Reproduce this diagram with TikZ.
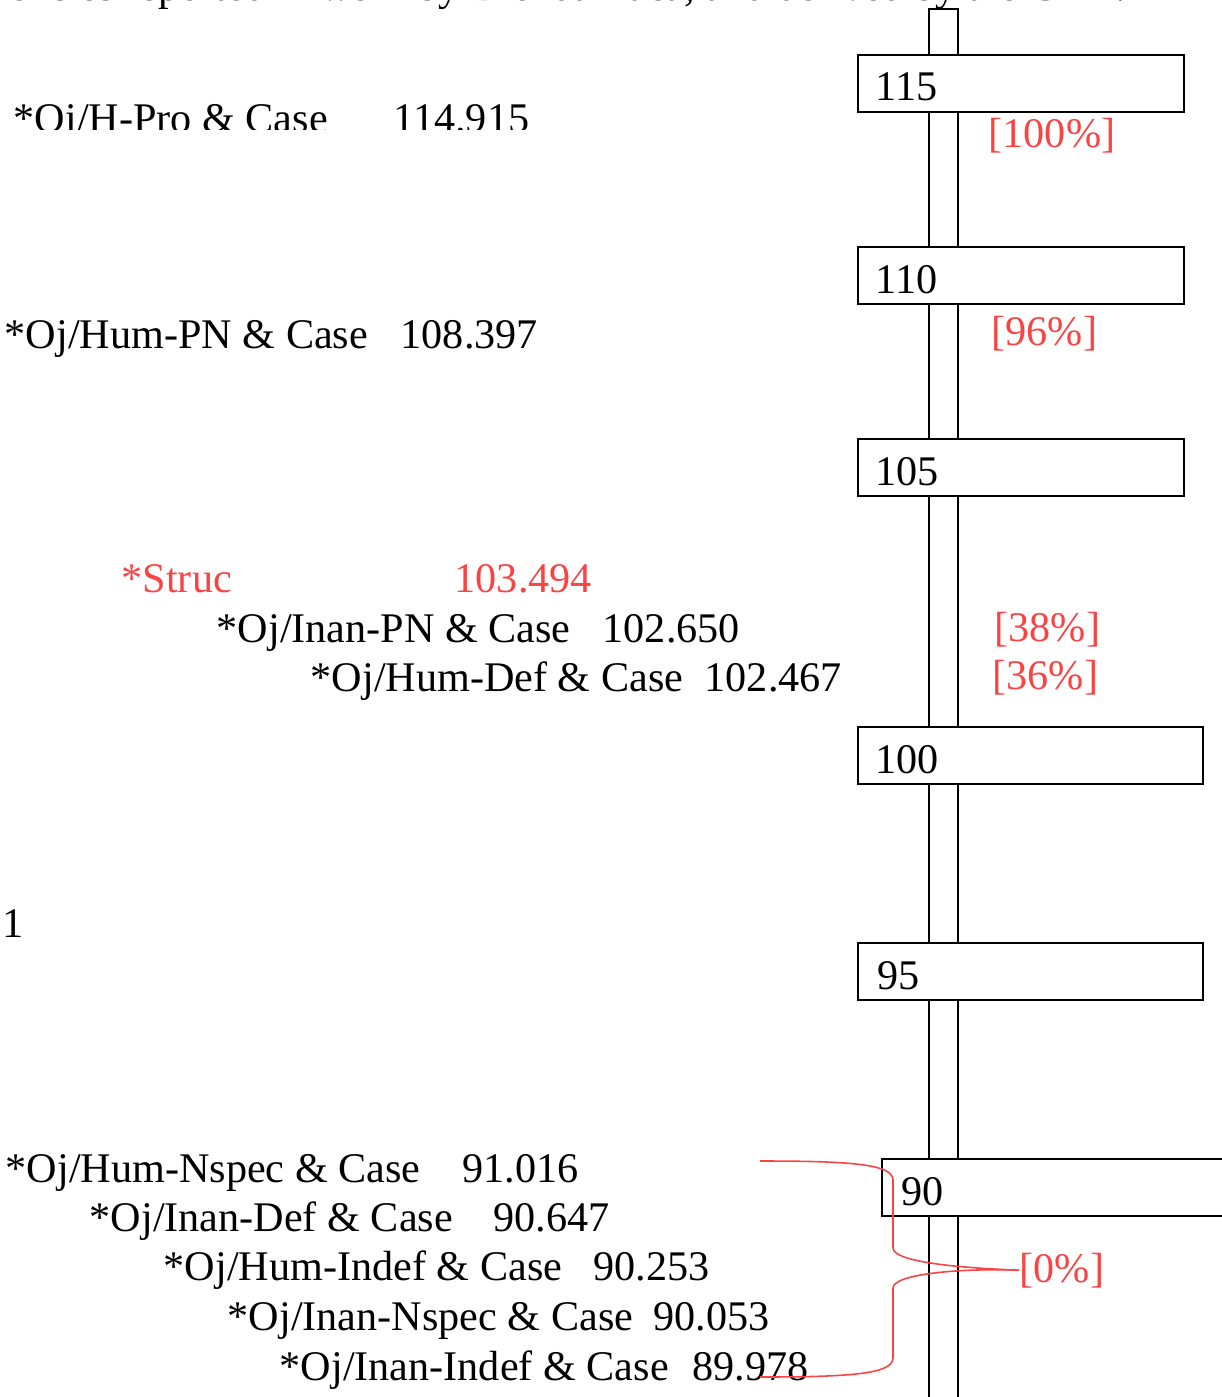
\documentclass[tikz,border=0pt]{standalone}
\usepackage{fontspec}
\setmainfont{Liberation Serif}
\usepackage{tikz}
\usetikzlibrary{positioning,calc}
\definecolor{gradred}{RGB}{250,68,68}

\begin{document}
\begin{tikzpicture}[
  x=0.01cm, y=-0.01cm,
  font=\fontsize{12}{14.4}\selectfont,
  lbl/.style={anchor=base west, inner sep=0pt},
  val/.style={anchor=base west, inner sep=0pt},
  pct/.style={anchor=base west, inner sep=0pt, text=gradred},
  tick/.style={draw, fill=white, line width=0.6pt, anchor=north west, inner sep=0pt, minimum height=5.7mm},
  ticknum/.style={anchor=base west, inner sep=0pt},
  bar/.style={draw, line width=0.6pt},
  link/.style={draw=gradred, line width=0.45pt},
]
\useasboundingbox (0,0) rectangle (1222,1397);
% caption line, cut by the top edge
\node[anchor=base east, inner sep=0pt] (caption) at (1127,1) {frequencies reported in work by Brenda Laca, and derived by the GLA.};
% the scale
\draw[bar] (929,1420) -- (929,9) -- (958,9) -- (958,1420);
% ---- scale ticks ----
\foreach \v/\bx/\by/\bw/\dx in {115/857/54/3.26/18, 110/857/246/3.26/18, 105/857/438/3.26/18, 100/857/726/3.45/18, 95/857/942/3.45/20, 90/881/1158/3.6/20}{
  \node[tick, minimum width=\bw cm] (b\v) at (\bx,\by) {};
  \node[ticknum] (n\v) at ($(b\v.north west)+(\dx,47)$) {\v};
}
% ---- constraints and weights ----
\begin{scope}
\clip (0,0) rectangle (850,130);
\node[lbl] (oihpro) at (13,133) {*Oi/H-Pro \& Case};
\node[val] (oihprov) at (393,133) {114.915};
\end{scope}
\node[lbl] (ojhumpn) at (4,348) {*Oj/Hum-PN \& Case};
\node[val] (ojhumpnv) at (400,348) {108.397};
\node[lbl, text=gradred] (struc) at (121,592) {*Struc};
\node[val, text=gradred] (strucv) at (454,592) {103.494};
\node[lbl] (ojinanpn) at (216,642) {*Oj/Inan-PN \& Case};
\node[val] (ojinanpnv) at (602,642) {102.650};
\node[lbl] (ojhumdef) at (310,691) {*Oj/Hum-Def \& Case};
\node[val] (ojhumdefv) at (704,691) {102.467};
\node[lbl] (one) at (1.5,937) {1};
\node[lbl] (ojhumnspec) at (5,1182) {*Oj/Hum-Nspec \& Case};
\node[val] (ojhumnspecv) at (462,1182) {91.016};
\node[lbl] (ojinandef) at (89,1231) {*Oj/Inan-Def \& Case};
\node[val] (ojinandefv) at (493,1231) {90.647};
\node[lbl] (ojhumindef) at (163,1280) {*Oj/Hum-Indef \& Case};
\node[val] (ojhumindefv) at (593,1280) {90.253};
\node[lbl] (ojinannspec) at (227,1330) {*Oj/Inan-Nspec \& Case};
\node[val] (ojinannspecv) at (653,1330) {90.053};
\node[lbl] (ojinanindef) at (279,1380) {*Oj/Inan-Indef \& Case};
\node[val] (ojinanindefv) at (692,1380) {89.978};
% ---- percentages ----
\node[pct] (p100) at (988,148) {[100\%]};
\node[pct] (p96) at (991,345) {[96\%]};
\node[pct] (p38) at (994,641) {[38\%]};
\node[pct] (p36) at (992,689) {[36\%]};
\node[pct] (p0) at (1019,1282) {[0\%]};
% bracket to [0%]
\coordinate (c1) at (760,1161);
\coordinate (c2) at (760,1377);
\draw[link] (c1) .. controls (850,1161) and (893,1164) .. (893,1180) -- (893,1248) .. controls (893,1262) and (960,1268) .. (p0.west);
\draw[link] (c2) .. controls (850,1377) and (893,1374) .. (893,1358) -- (893,1288) .. controls (893,1274) and (960,1268) .. (p0.west);
\end{tikzpicture}
\end{document}
